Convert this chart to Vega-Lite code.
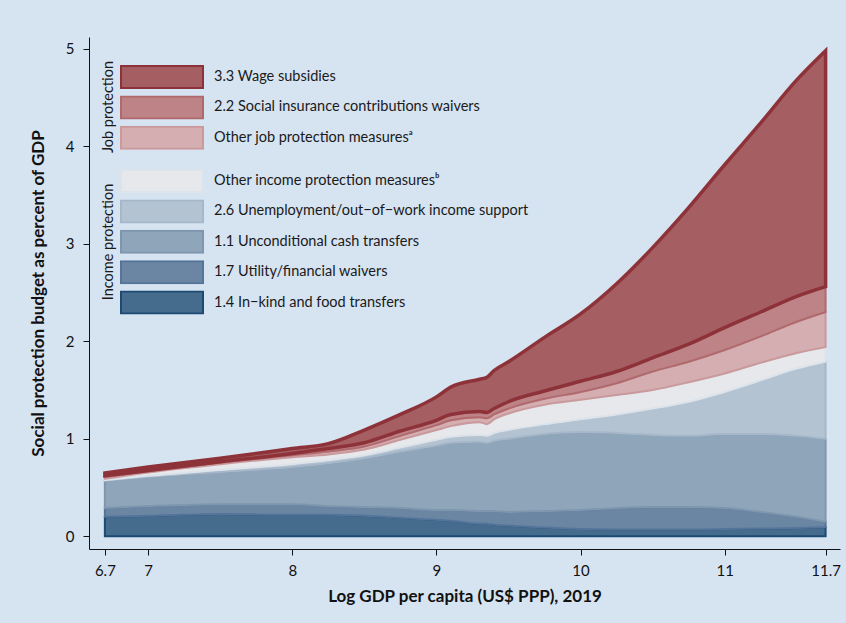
{
  "$schema": "https://vega.github.io/schema/vega-lite/v6.json",
  "width": 751,
  "height": 512,
  "autosize": {"type": "none"},
  "padding": {"left": 89, "top": 37, "right": 6, "bottom": 74},
  "background": "#d6e3f1",
  "config": {
    "view": {"stroke": null},
    "font": "Lato",
    "axis": {
      "grid": false,
      "domainColor": "#111111",
      "domainWidth": 1,
      "tickColor": "#111111",
      "tickSize": 6,
      "labelFontSize": 15,
      "labelColor": "#111111",
      "titleFontSize": 17,
      "titleFontWeight": "bold",
      "titleColor": "#111111",
      "labelOverlap": false
    },
    "legend": {
      "orient": "none",
      "labelFontSize": 14.5,
      "labelColor": "#1a1a1a",
      "labelLimit": 500,
      "titleFontSize": 14.5,
      "titleFontWeight": "normal",
      "titleColor": "#1a1a1a",
      "titleLimit": 300,
      "symbolType": "M-1,-0.268H1V0.268H-1Z",
      "symbolSize": 6724,
      "symbolStrokeWidth": 2,
      "symbolOpacity": 1,
      "clipHeight": 24,
      "rowPadding": 6.4,
      "labelOffset": 10,
      "padding": 0
    }
  },
  "datasets": {
    "main": [
      {"x": 6.7, "a": 0.2, "b": 0.09, "c": 0.28, "d": 0.005, "e": 0.015, "f": 0.02, "g": 0.01, "h": 0.03},
      {"x": 7, "a": 0.21, "b": 0.1, "c": 0.3, "d": 0.01, "e": 0.035, "f": 0.01, "g": 0.01, "h": 0.035},
      {"x": 7.5, "a": 0.23, "b": 0.1, "c": 0.33, "d": 0.02, "e": 0.06, "f": 0.015, "g": 0.01, "h": 0.035},
      {"x": 8, "a": 0.22, "b": 0.11, "c": 0.38, "d": 0.03, "e": 0.07, "f": 0.02, "g": 0.02, "h": 0.05},
      {"x": 8.25, "a": 0.22, "b": 0.09, "c": 0.44, "d": 0.03, "e": 0.06, "f": 0.03, "g": 0.03, "h": 0.05},
      {"x": 8.5, "a": 0.21, "b": 0.09, "c": 0.5, "d": 0.03, "e": 0.06, "f": 0.03, "g": 0.04, "h": 0.13},
      {"x": 8.75, "a": 0.19, "b": 0.1, "c": 0.58, "d": 0.04, "e": 0.08, "f": 0.04, "g": 0.05, "h": 0.17},
      {"x": 9, "a": 0.17, "b": 0.1, "c": 0.66, "d": 0.06, "e": 0.1, "f": 0.05, "g": 0.05, "h": 0.24},
      {"x": 9.1, "a": 0.16, "b": 0.11, "c": 0.69, "d": 0.06, "e": 0.11, "f": 0.06, "g": 0.06, "h": 0.28},
      {"x": 9.3, "a": 0.13, "b": 0.13, "c": 0.71, "d": 0.07, "e": 0.13, "f": 0.05, "g": 0.06, "h": 0.33},
      {"x": 9.35, "a": 0.13, "b": 0.13, "c": 0.7, "d": 0.07, "e": 0.12, "f": 0.06, "g": 0.06, "h": 0.36},
      {"x": 9.4, "a": 0.12, "b": 0.14, "c": 0.72, "d": 0.08, "e": 0.14, "f": 0.05, "g": 0.06, "h": 0.39},
      {"x": 9.5, "a": 0.11, "b": 0.14, "c": 0.75, "d": 0.09, "e": 0.17, "f": 0.05, "g": 0.07, "h": 0.41},
      {"x": 9.75, "a": 0.09, "b": 0.17, "c": 0.79, "d": 0.1, "e": 0.2, "f": 0.06, "g": 0.08, "h": 0.55},
      {"x": 10, "a": 0.075, "b": 0.195, "c": 0.8, "d": 0.13, "e": 0.2, "f": 0.08, "g": 0.11, "h": 0.69},
      {"x": 10.25, "a": 0.07, "b": 0.22, "c": 0.77, "d": 0.19, "e": 0.2, "f": 0.12, "g": 0.12, "h": 0.9},
      {"x": 10.5, "a": 0.07, "b": 0.23, "c": 0.74, "d": 0.27, "e": 0.19, "f": 0.19, "g": 0.14, "h": 1.13},
      {"x": 10.75, "a": 0.07, "b": 0.23, "c": 0.73, "d": 0.35, "e": 0.2, "f": 0.21, "g": 0.18, "h": 1.4},
      {"x": 11, "a": 0.075, "b": 0.215, "c": 0.76, "d": 0.43, "e": 0.19, "f": 0.24, "g": 0.23, "h": 1.67},
      {"x": 11.25, "a": 0.08, "b": 0.17, "c": 0.8, "d": 0.55, "e": 0.18, "f": 0.27, "g": 0.25, "h": 1.94},
      {"x": 11.5, "a": 0.085, "b": 0.115, "c": 0.83, "d": 0.69, "e": 0.16, "f": 0.32, "g": 0.26, "h": 2.22},
      {"x": 11.7, "a": 0.095, "b": 0.055, "c": 0.85, "d": 0.79, "e": 0.15, "f": 0.36, "g": 0.26, "h": 2.42}
    ],
    "series": [
      {"key": "a", "k": 1, "grp": "inc", "label": "1.4 In−kind and food transfers"},
      {"key": "b", "k": 2, "grp": "inc", "label": "1.7 Utility/financial waivers"},
      {"key": "c", "k": 3, "grp": "inc", "label": "1.1 Unconditional cash transfers"},
      {"key": "d", "k": 4, "grp": "inc", "label": "2.6 Unemployment/out−of−work income support"},
      {"key": "e", "k": 5, "grp": "inc", "label": "Other income protection measuresᵇ"},
      {"key": "f", "k": 6, "grp": "job", "label": "Other job protection measuresᵃ"},
      {"key": "g", "k": 7, "grp": "job", "label": "2.2 Social insurance contributions waivers"},
      {"key": "h", "k": 8, "grp": "job", "label": "3.3 Wage subsidies"}
    ]
  },
  "data": {"name": "main"},
  "transform": [
    {"fold": ["a", "b", "c", "d", "e", "f", "g", "h"], "as": ["key", "v"]},
    {"lookup": "key", "from": {"data": {"name": "series"}, "key": "key", "fields": ["label", "grp", "k"]}},
    {"stack": "v", "groupby": ["x"], "sort": [{"field": "k", "order": "ascending"}], "as": ["v0", "v1"]}
  ],
  "encoding": {
    "x": {
      "field": "x",
      "type": "quantitative",
      "scale": {"domain": [6.59, 11.8], "nice": false, "zero": false},
      "axis": {
        "values": [6.7, 7, 8, 9, 10, 11, 11.7],
        "format": ".3~g",
        "title": "Log GDP per capita (US$ PPP), 2019",
        "labelPadding": 8,
        "titlePadding": 10
      }
    },
    "y": {
      "field": "v1",
      "type": "quantitative",
      "scale": {"domain": [-0.13, 5.12], "nice": false, "zero": false},
      "axis": {
        "values": [0, 1, 2, 3, 4, 5],
        "title": "Social protection budget as percent of GDP",
        "labelPadding": 9,
        "titlePadding": 18
      }
    },
    "y2": {"field": "v0"}
  },
  "layer": [
    {
      "transform": [{"filter": "datum.grp === 'inc'"}],
      "mark": {"type": "area", "opacity": 1, "strokeWidth": 2, "interpolate": "monotone"},
      "encoding": {
        "fill": {
          "field": "label",
          "type": "nominal",
          "scale": {
            "domain": ["Other income protection measuresᵇ", "2.6 Unemployment/out−of−work income support", "1.1 Unconditional cash transfers", "1.7 Utility/financial waivers", "1.4 In−kind and food transfers"],
            "range": ["#e6e8eb", "#b3c3d1", "#8fa5ba", "#6a86a3", "#456b8d"]
          },
          "legend": {"title": "Income protection", "titleOrient": "left", "titleAnchor": "middle", "titlePadding": -11, "legendX": 12, "legendY": 132,
            "encode": {"title": {"update": {"angle": {"value": 270}, "align": {"value": "center"}, "baseline": {"value": "bottom"}}}}}
        },
        "stroke": {
          "field": "label",
          "type": "nominal",
          "scale": {
            "domain": ["Other income protection measuresᵇ", "2.6 Unemployment/out−of−work income support", "1.1 Unconditional cash transfers", "1.7 Utility/financial waivers", "1.4 In−kind and food transfers"],
            "range": ["#dde3ea", "#a5b7c8", "#7f97ae", "#55749a", "#1d4a72"]
          },
          "legend": {"title": "Income protection", "titleOrient": "left", "titleAnchor": "middle", "titlePadding": -11, "legendX": 12, "legendY": 132,
            "encode": {"title": {"update": {"angle": {"value": 270}, "align": {"value": "center"}, "baseline": {"value": "bottom"}}}}}
        }
      }
    },
    {
      "transform": [{"filter": "datum.grp === 'job'"}],
      "mark": {"type": "area", "opacity": 1, "strokeWidth": 2, "interpolate": "monotone"},
      "encoding": {
        "fill": {
          "field": "label",
          "type": "nominal",
          "scale": {
            "domain": ["3.3 Wage subsidies", "2.2 Social insurance contributions waivers", "Other job protection measuresᵃ"],
            "range": ["#a55e62", "#bd8386", "#d4aeb0"]
          },
          "legend": {"title": "Job protection", "titleOrient": "left", "titleAnchor": "middle", "titlePadding": -11, "legendX": 12, "legendY": 28,
            "encode": {"title": {"update": {"angle": {"value": 270}, "align": {"value": "center"}, "baseline": {"value": "bottom"}}}}}
        },
        "stroke": {
          "field": "label",
          "type": "nominal",
          "scale": {
            "domain": ["3.3 Wage subsidies", "2.2 Social insurance contributions waivers", "Other job protection measuresᵃ"],
            "range": ["#8e3239", "#b06a6e", "#c9999c"]
          },
          "legend": {"title": "Job protection", "titleOrient": "left", "titleAnchor": "middle", "titlePadding": -11, "legendX": 12, "legendY": 28,
            "encode": {"title": {"update": {"angle": {"value": 270}, "align": {"value": "center"}, "baseline": {"value": "bottom"}}}}}
        },
        "strokeWidth": {"condition": {"test": "datum.key === 'h'", "value": 3.5}, "value": 2}
      }
    }
  ],
  "resolve": {"scale": {"fill": "independent", "stroke": "independent"}}
}
